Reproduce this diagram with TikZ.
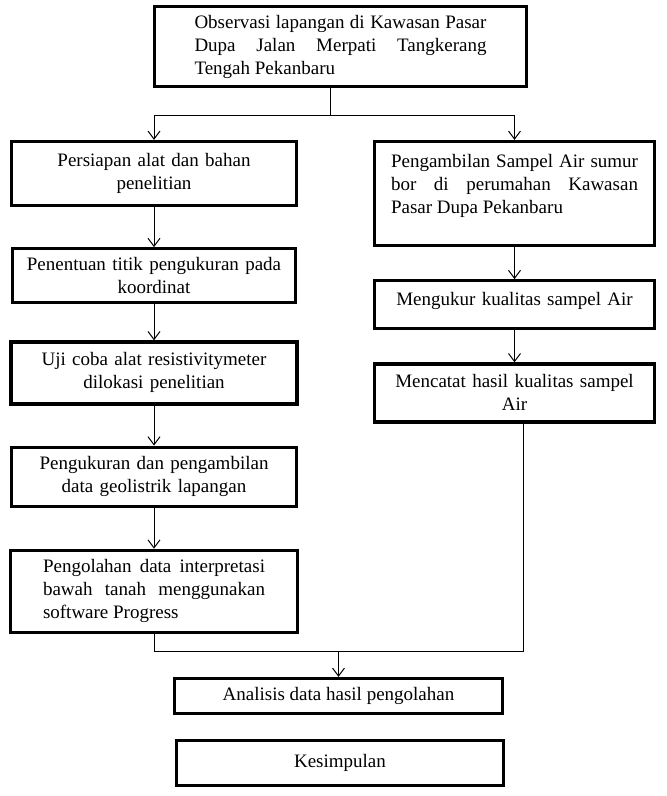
\documentclass[tikz,border=0pt]{standalone}
\usepackage{fontspec}
\setmainfont{Liberation Serif}
\usepackage{tikz}
\usetikzlibrary{shapes,arrows,arrows.meta,positioning}
\hyphenpenalty=10000
\exhyphenpenalty=10000
\tolerance=10000
\tikzstyle{line} = [line width=1pt, -{Straight Barb[length=8pt,width=12pt]}]
\tikzstyle{link} = [line width=1pt]
\tikzstyle{block} = [draw, rectangle, line width=3.2pt, inner sep=0pt, align=center, font=\fontsize{19}{23}\selectfont]

\begin{document}
\begin{tikzpicture}[x=1pt,y=-1pt]
        \useasboundingbox (0,0) rectangle (667,796);
        \node[block, minimum width=372pt, minimum height=80pt, text width=292pt, align=justify] (Observasi) at (340.5,46.5) {Observasi lapangan di Kawasan Pasar\linebreak Dupa Jalan Merpati Tangkerang\linebreak Tengah Pekanbaru};
        % kolom kiri
        \node[block, minimum width=285pt, minimum height=64pt, text width=270pt] (Persiapan) at (154,173.5) {Persiapan alat dan bahan\\ penelitian};
        \node[block, minimum width=283pt, minimum height=54pt, text width=270pt, below=40pt of Persiapan] (Penentuan) {Penentuan titik pengukuran pada\\ koordinat};
        \node[block, minimum width=286pt, minimum height=62pt, text width=270pt, below=36pt of Penentuan] (UjiCoba) {Uji coba alat resistivitymeter\\ dilokasi penelitian};
        \node[block, minimum width=285pt, minimum height=59pt, text width=270pt, below=40pt of UjiCoba] (Pengukuran) {Pengukuran dan pengambilan\\ data geolistrik lapangan};
        \node[block, minimum width=287pt, minimum height=82pt, text width=222pt, align=justify, below=41pt of Pengukuran] (Pengolahan) {Pengolahan data interpretasi\linebreak bawah tanah menggunakan\linebreak software Progress};
        % kolom kanan
        \node[block, minimum width=280pt, minimum height=104pt, text width=247pt, align=justify, text depth=66pt] (Pengambilan) at (514.5,193.5) {Pengambilan Sampel Air sumur\linebreak bor di perumahan Kawasan\linebreak Pasar Dupa Pekanbaru};
        \node[block, minimum width=280pt, minimum height=48pt, text width=270pt, text depth=12pt, below=32pt of Pengambilan] (Mengukur) {Mengukur kualitas sampel Air};
        \node[block, minimum width=280pt, minimum height=58pt, text width=270pt, below=32pt of Mengukur] (Mencatat) {Mencatat hasil kualitas sampel\\ Air};
        % bawah
        \node[block, minimum width=328pt, minimum height=35pt] (Analisis) at (338.5,696) {Analisis data hasil pengolahan};
        \node[block, minimum width=327pt, minimum height=45pt] (Kesimpulan) at (340,763) {Kesimpulan};

        \draw[link] ([xshift=-10.5pt]Observasi.south) -- ++(0,27) coordinate (Cabang);
        \draw[line] (Cabang) -| (Persiapan.north);
        \draw[line] (Cabang) -| (Pengambilan.north);
        \path[line] (Persiapan) edge (Penentuan);
        \path[line] (Penentuan) edge (UjiCoba);
        \path[line] (UjiCoba) edge (Pengukuran);
        \path[line] (Pengukuran) edge (Pengolahan);
        \path[line] (Pengambilan) edge (Mengukur);
        \path[line] (Mengukur) edge (Mencatat);
        \draw[link] (Pengolahan.south) -- ++(0,18) coordinate (Gabung) -| ([xshift=8.5pt]Mencatat.south);
        \draw[line] (Analisis.north |- Gabung) -- (Analisis.north);
    \end{tikzpicture}
\end{document}
